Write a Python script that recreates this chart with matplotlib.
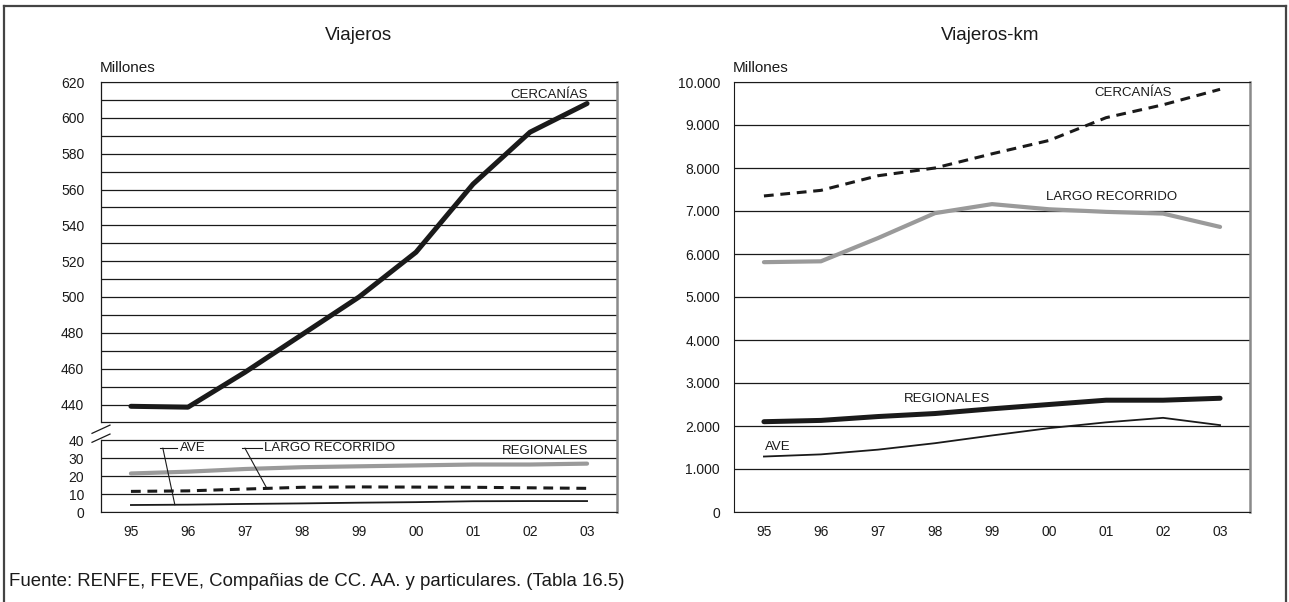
import matplotlib
matplotlib.use("Agg")
import matplotlib.pyplot as plt
from matplotlib.lines import Line2D
from matplotlib.ticker import FixedLocator, NullFormatter

plt.rcParams['font.family'] = ['Liberation Sans', 'DejaVu Sans']

years = ["95", "96", "97", "98", "99", "00", "01", "02", "03"]

# Viajeros (millones)
v_cercanias = [439, 438.5, 458, 479, 500, 525, 563, 592, 608]
v_regionales = [21.5, 22.5, 24, 25, 25.5, 26, 26.5, 26.5, 27]
v_largo = [11.5, 11.8, 12.8, 13.8, 14, 13.9, 13.8, 13.5, 13.2]
v_ave = [3.9, 4.1, 4.5, 4.8, 5.2, 5.5, 6.0, 6.1, 6.1]

# Viajeros-km (millones)
km_cercanias = [7350, 7480, 7820, 8000, 8330, 8640, 9170, 9470, 9830]
km_largo = [5810, 5830, 6370, 6950, 7160, 7040, 6980, 6940, 6630]
km_regionales = [2100, 2130, 2220, 2290, 2400, 2500, 2600, 2600, 2645]
km_ave = [1290, 1340, 1450, 1600, 1780, 1950, 2085, 2190, 2020]

left_major = [0, 10, 20, 30, 40] + list(range(440, 621, 20))
left_minor = list(range(430, 621, 20))
right_major = list(range(0, 10001, 1000))

BREAK_LO, BREAK_HI = 40, 430
SHIFT = BREAK_HI - BREAK_LO - 10   # 430 drawn one step above 40


def f(v):
    # broken axis: lower block 0-40, upper block 430-620
    return v if v <= BREAK_LO + 5 else v - SHIFT


def fl(vals):
    return [f(v) for v in vals]


INK = "#1a1a1a"
GRAY = "#9a9a9a"
x = list(range(len(years)))

fig = plt.figure(figsize=(12.89, 6.02), dpi=100)
W, H = 1289, 602
axL = fig.add_axes([101 / W, 90 / H, 516 / W, 430 / H])
axR = fig.add_axes([734 / W, 90 / H, 516 / W, 430 / H])

for ax in (axL, axR):
    ax.set_xlim(-0.525, 8.525)
    ax.set_xticks(x)
    ax.set_xticklabels(years, fontsize=10, color=INK)
    ax.tick_params(axis="both", which="both", length=0)
    ax.tick_params(axis="x", pad=9)
    ax.spines["left"].set_color(INK)
    ax.spines["bottom"].set_color(INK)
    ax.spines["top"].set_color(INK)
    ax.spines["right"].set_color("#8a8a8a")
    ax.spines["right"].set_linewidth(1.8)
    ax.set_axisbelow(True)

# ---- left: Viajeros ----
axL.set_ylim(0, f(620))
axL.yaxis.set_major_locator(FixedLocator(fl(left_major)))
axL.set_yticklabels([str(v) for v in left_major], fontsize=10, color=INK)
axL.yaxis.set_minor_locator(FixedLocator(fl(left_minor)))
axL.yaxis.set_minor_formatter(NullFormatter())
axL.tick_params(axis="y", pad=12)
axL.grid(axis="y", which="both", color=INK, linewidth=0.9)

axL.plot(x, fl(v_cercanias), color=INK, lw=3.6, solid_capstyle="round", solid_joinstyle="round")
axL.plot(x, fl(v_regionales), color=GRAY, lw=3.0, solid_capstyle="round")
axL.plot(x, fl(v_largo), color=INK, lw=2.2, linestyle=(0, (3.2, 2.2)))
axL.plot(x, fl(v_ave), color=INK, lw=1.3)

# spine with a gap at the break
axL.spines["left"].set_visible(False)
trL = axL.get_yaxis_transform()
axL.plot([0, 0], [f(BREAK_HI), f(620)], color=INK, lw=0.9, transform=trL, clip_on=False)
axL.plot([0, 0], [0, f(BREAK_LO)], color=INK, lw=0.9, transform=trL, clip_on=False)
for y0 in (38.9, 43.9):
    axL.plot([-0.0174, 0.0174], [y0, y0 + 4.6], color=INK, lw=0.9,
             transform=trL, clip_on=False)

# series labels
axL.text(6.65, f(612.8), "CERCANÍAS", fontsize=9.5, color=INK, va="center")
axL.text(6.50, 33.9, "REGIONALES", fontsize=9.5, color=INK, va="center")
axL.text(0.86, 35.6, "AVE", fontsize=9.5, color=INK, va="center")
axL.text(2.33, 35.6, "LARGO RECORRIDO", fontsize=9.5, color=INK, va="center")
axL.plot([0.51, 0.80], [35.6, 35.6], color=INK, lw=0.8)
axL.plot([0.56, 0.77], [35.6, 4.05], color=INK, lw=0.8)
axL.plot([1.94, 2.30], [35.6, 35.6], color=INK, lw=0.8)
axL.plot([2.00, 2.38], [35.6, 13.4], color=INK, lw=0.8)

# ---- right: Viajeros-km ----
axR.set_ylim(0, 10000)
axR.set_yticks(right_major)
axR.set_yticklabels([f"{v:,}".replace(",", ".") for v in right_major], fontsize=10, color=INK)
axR.tick_params(axis="y", pad=10)
axR.grid(axis="y", color=INK, linewidth=0.9)

axR.plot(x, km_cercanias, color=INK, lw=2.2, linestyle=(0, (3.2, 2.2)))
axR.plot(x, km_largo, color=GRAY, lw=3.0, solid_capstyle="round")
axR.plot(x, km_regionales, color=INK, lw=3.6, solid_capstyle="round")
axR.plot(x, km_ave, color=INK, lw=1.3)

axR.text(5.79, 9744, "CERCANÍAS", fontsize=9.5, color=INK, va="center")
axR.text(4.94, 7326, "LARGO RECORRIDO", fontsize=9.5, color=INK, va="center")
axR.text(2.45, 2628, "REGIONALES", fontsize=9.5, color=INK, va="center")
axR.text(0.02, 1512, "AVE", fontsize=9.5, color=INK, va="center")

# titles and units
fig.text(358 / W, 1 - 36 / H, "Viajeros", fontsize=13.5, color=INK, ha="center", va="center")
fig.text(990 / W, 1 - 36 / H, "Viajeros-km", fontsize=13.5, color=INK, ha="center", va="center")
fig.text(100 / W, 1 - 68 / H, "Millones", fontsize=11, color=INK, va="center")
fig.text(733 / W, 1 - 68 / H, "Millones", fontsize=11, color=INK, va="center")
fig.text(9 / W, 1 - 582 / H,
         "Fuente: RENFE, FEVE, Compañias de CC. AA. y particulares. (Tabla 16.5)",
         fontsize=13.4, color=INK, va="center")

# outer frame (open at the bottom)
frame = dict(color="#444444", lw=1.6, transform=fig.transFigure)
fig.add_artist(Line2D([3.5 / W, 3.5 / W], [0, 1 - 6 / H], **frame))
fig.add_artist(Line2D([3.5 / W, 1285.5 / W], [1 - 6 / H, 1 - 6 / H], **frame))
fig.add_artist(Line2D([1285.5 / W, 1285.5 / W], [0, 1 - 6 / H], **frame))

fig.savefig("out.png", dpi=100)
